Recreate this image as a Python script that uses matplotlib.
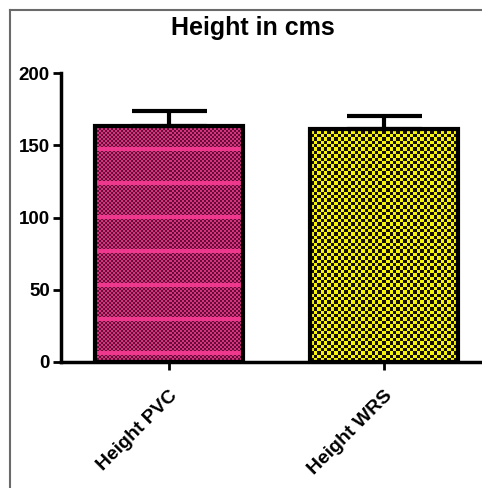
import numpy as np
import matplotlib
matplotlib.use("Agg")
import matplotlib.pyplot as plt
from matplotlib.lines import Line2D

categories = ["Height PVC", "Height WRS"]
means = [163.0, 161.0]
errors = [10.5, 9.0]
yticks = [0, 50, 100, 150, 200]
title = "Height in cms"

plt.rcParams['font.family'] = ['Liberation Sans', 'DejaVu Sans']

W, H, DPI = 482, 488, 100
fig = plt.figure(figsize=(W / DPI, H / DPI), dpi=DPI)
ax = fig.add_axes([61 / W, 1 - 362 / H, 1 - 61 / W, (362 - 73) / H])

x = np.arange(len(categories))
ax.set_xlim(-0.502, 1.456)
ax.set_ylim(0, 200)

bars = ax.bar(x, means, width=0.69, facecolor='none', edgecolor='black',
              linewidth=3, zorder=3)
ax.errorbar(x, means, yerr=[np.zeros(len(errors)), errors], fmt='none',
            ecolor='black', elinewidth=3, capsize=27, capthick=3, zorder=4)

# pattern fills
def pink_pattern(h, w):
    r = np.arange(h)[::-1][:, None]
    c = np.arange(w)[None, :]
    chk = ((r // 2) + (c // 2)) % 2
    img = np.where(chk[..., None] == 1,
                   np.array([0.84, 0.20, 0.50]),
                   np.array([0.40, 0.05, 0.22]))
    stripe = ((r - 7) % 34 < 4) & np.ones_like(c, dtype=bool)
    img[stripe] = np.array([0.93, 0.22, 0.56])
    return img

def yellow_pattern(h, w):
    r = np.arange(h)[::-1][:, None]
    c = np.arange(w)[None, :]
    chk = (np.floor(r / 3.4) + np.floor(c / 3.4)).astype(int) % 2
    img = np.where(chk[..., None] == 1,
                   np.array([0.96, 0.96, 0.05]),
                   np.array([0.10, 0.06, 0.0]))
    return img

patterns = [pink_pattern, yellow_pattern]
for bar, pat in zip(bars, patterns):
    x0, y0 = bar.get_x(), bar.get_y()
    x1, y1 = x0 + bar.get_width(), y0 + bar.get_height()
    (px0, py0), (px1, py1) = ax.transData.transform([(x0, y0), (x1, y1)])
    w = max(int(round(px1 - px0)), 1)
    h = max(int(round(py1 - py0)), 1)
    img = pat(h, w)
    im = ax.imshow(img, extent=(x0, x1, y0, y1), aspect='auto',
                   interpolation='nearest', zorder=2)
    im.set_clip_path(bar)

ax.set_xlim(-0.502, 1.456)
ax.set_ylim(0, 200)

for s in ['top', 'right']:
    ax.spines[s].set_visible(False)
for s in ['left', 'bottom']:
    ax.spines[s].set_linewidth(2.5)
    ax.spines[s].set_color('black')

ax.set_yticks(yticks)
ax.set_yticklabels([str(v) for v in yticks], fontsize=13.5, fontweight='bold')
ax.set_xticks(x)
ax.set_xticklabels(categories, fontsize=14, fontweight='bold', rotation=45,
                   ha='right', rotation_mode='anchor')
ax.tick_params(axis='both', direction='out', length=6, width=2, colors='black')
ax.tick_params(axis='y', pad=2)
ax.tick_params(axis='x', pad=12)

fig.text(253 / W, 1 - 28 / H, title, ha='center', va='center',
         fontsize=18, fontweight='bold')

# outer frame
fig.add_artist(Line2D([10 / W, 10 / W], [0, 1 - 10 / H], transform=fig.transFigure,
                      color='#6a6a6a', linewidth=1.5))
fig.add_artist(Line2D([10 / W, 1], [1 - 10 / H, 1 - 10 / H], transform=fig.transFigure,
                      color='#6a6a6a', linewidth=1.5))

fig.savefig("out.png", dpi=DPI)
